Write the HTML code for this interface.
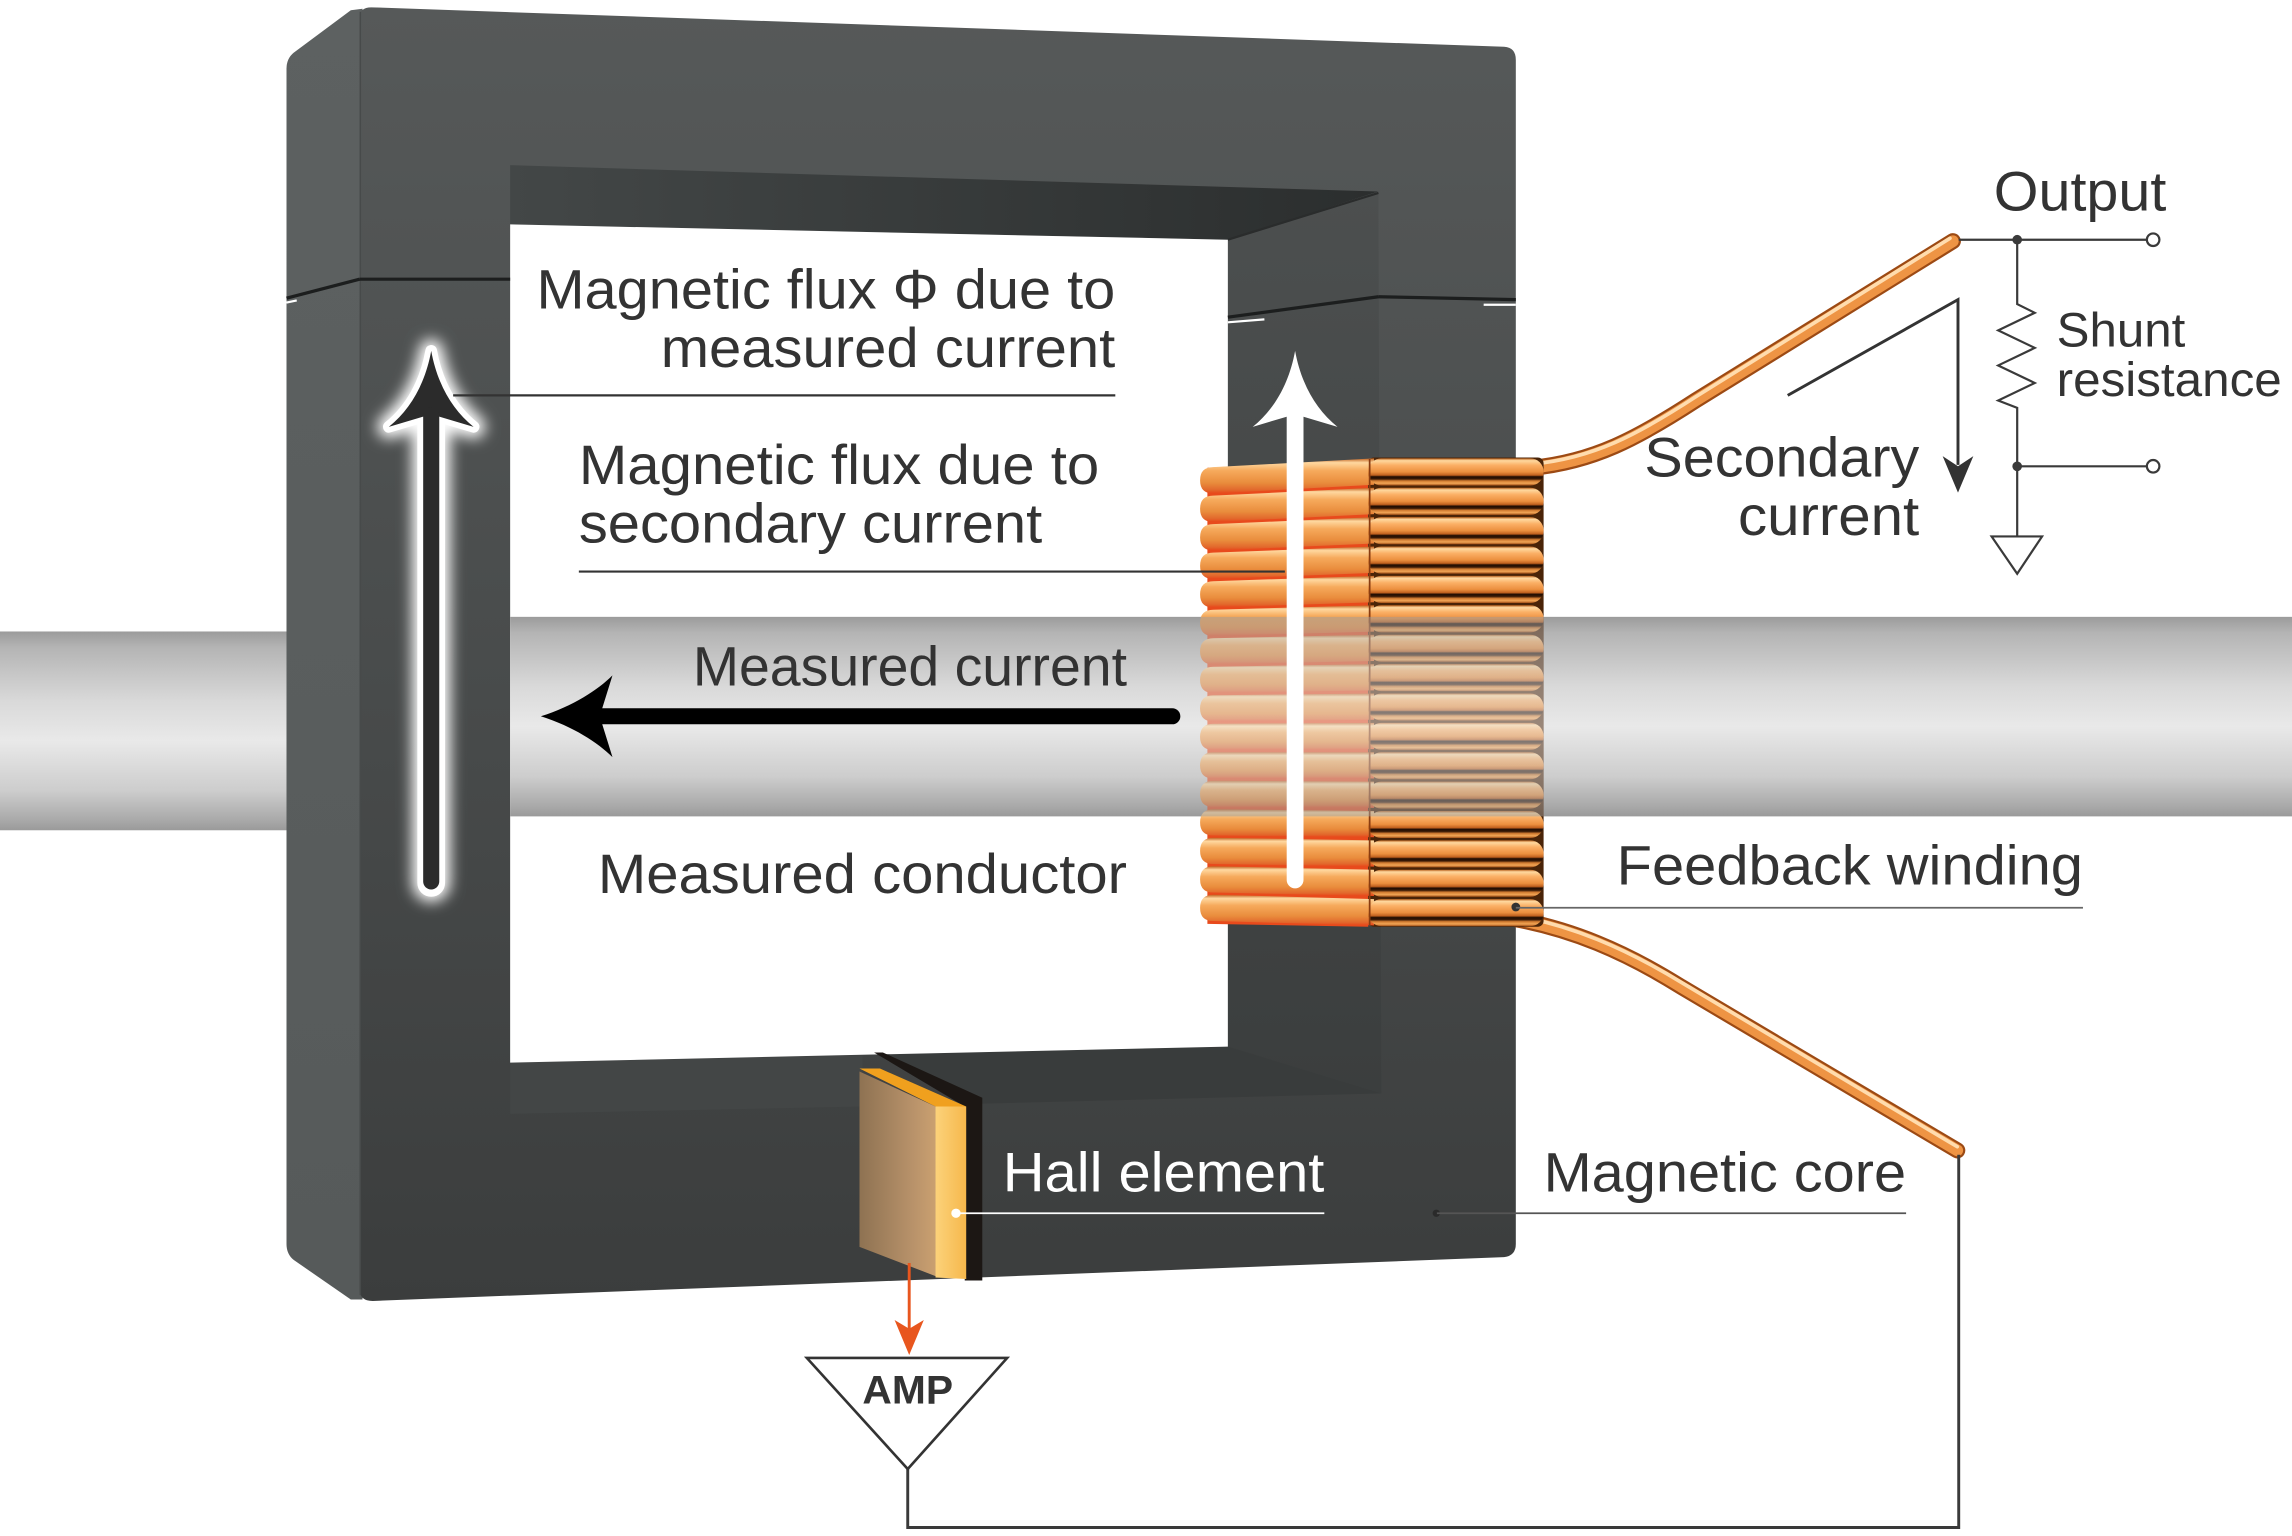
<!DOCTYPE html>
<html><head><meta charset="utf-8"><style>
html,body{margin:0;padding:0;background:#fff;}
svg{display:block;}
text{font-family:"Liberation Sans",Arial,sans-serif;fill:#333;}
</style></head><body>
<svg width="2292" height="1536" viewBox="0 0 1568 1050.8" xmlns="http://www.w3.org/2000/svg">
<defs>
<linearGradient id="bar" x1="0" y1="0" x2="0" y2="1">
<stop offset="0" stop-color="#9b9b9b"/><stop offset="0.08" stop-color="#b4b4b4"/><stop offset="0.35" stop-color="#d9d9d9"/><stop offset="0.55" stop-color="#e9e9e9"/><stop offset="0.8" stop-color="#cdcdcd"/><stop offset="0.95" stop-color="#a9a9a9"/><stop offset="1" stop-color="#9a9a9a"/>
</linearGradient>
<linearGradient id="front" x1="0" y1="0" x2="0" y2="1">
<stop offset="0" stop-color="#565959"/><stop offset="0.5" stop-color="#494c4c"/><stop offset="1" stop-color="#3b3d3d"/>
</linearGradient>
<linearGradient id="side" x1="0" y1="0" x2="0" y2="1">
<stop offset="0" stop-color="#5d6161"/><stop offset="1" stop-color="#565a5a"/>
</linearGradient>
<linearGradient id="itop" x1="0" y1="0" x2="1" y2="0">
<stop offset="0" stop-color="#434747"/><stop offset="1" stop-color="#2b2e2e"/>
</linearGradient>
<linearGradient id="iright" x1="0" y1="0" x2="0" y2="1">
<stop offset="0" stop-color="#4c4f4f"/><stop offset="1" stop-color="#3b3e3e"/>
</linearGradient>
<linearGradient id="rodF" x1="0" y1="0" x2="0" y2="1">
<stop offset="0" stop-color="#b8601c"/><stop offset="0.08" stop-color="#ffd9a0"/><stop offset="0.25" stop-color="#fbb066"/><stop offset="0.5" stop-color="#eb8f3e"/><stop offset="0.62" stop-color="#c0601e"/><stop offset="0.68" stop-color="#1e0c02"/><stop offset="0.76" stop-color="#3a1a06"/><stop offset="0.83" stop-color="#d07a30"/><stop offset="0.92" stop-color="#f2a656"/><stop offset="1" stop-color="#a04e16"/>
</linearGradient>
<linearGradient id="rodS" x1="0" y1="0" x2="0" y2="1">
<stop offset="0" stop-color="#c0601e"/><stop offset="0.12" stop-color="#ffd8a0"/><stop offset="0.35" stop-color="#f6aa5c"/><stop offset="0.7" stop-color="#e98c3c"/><stop offset="0.9" stop-color="#e2682c"/><stop offset="1" stop-color="#e8461a"/>
</linearGradient>
<linearGradient id="wire" x1="0" y1="0" x2="0" y2="1">
<stop offset="0" stop-color="#ffd9a6"/><stop offset="1" stop-color="#e8883a"/>
</linearGradient>
<linearGradient id="hallF" x1="0" y1="0" x2="1" y2="0">
<stop offset="0" stop-color="#8e7252"/><stop offset="0.7" stop-color="#b8926a"/><stop offset="1" stop-color="#caa070"/>
</linearGradient>
<linearGradient id="hallS" x1="0" y1="0" x2="1" y2="0">
<stop offset="0" stop-color="#fcd27a"/><stop offset="1" stop-color="#f6b84c"/>
</linearGradient>
<filter id="glow" x="-100%" y="-30%" width="300%" height="160%"><feGaussianBlur stdDeviation="5"/></filter>
</defs>

<rect x="0" y="0" width="1568" height="1051" fill="#fff"/>

<!-- conductor bar outside core -->
<rect x="0" y="432" width="205" height="136" fill="url(#bar)"/>
<rect x="1030" y="422" width="538" height="136.5" fill="url(#bar)"/>

<!-- core side face and front face -->
<path d="M196,47 Q196,40 201,36 L240,7 L248,6 L248,889 L240,889 L201,862 Q196,858 196,851 Z" fill="url(#side)"/>
<path d="M246,12 Q246,5 254,5 L1029,32 Q1037,32.5 1037,41 L1037,851 Q1037,859 1029,860 L255,890 Q246,890 246,882 Z" fill="url(#front)"/>
<line x1="246.5" y1="8" x2="246.5" y2="886" stroke="#474a4a" stroke-width="1"/>

<!-- inner faces -->
<polygon points="349,113 943,131 840,164 349,153.5" fill="url(#itop)"/>
<polygon points="840,164 943,131 945,748 840,716" fill="url(#iright)"/>
<polygon points="349,727 590,722 590,757 349,762" fill="#434646"/>
<polygon points="596,720 840,716 945,748 671,755" fill="#393c3c"/>
<line x1="840" y1="164" x2="943" y2="132" stroke="#2a2c2c" stroke-width="1.5"/>

<!-- white interior -->
<polygon points="349,153.5 840,164 840,716 349,727" fill="#fff"/>

<!-- conductor bar middle -->
<rect x="349" y="422" width="491" height="136.5" fill="url(#bar)"/>

<!-- gaps in core -->
<line x1="246" y1="191" x2="349" y2="191" stroke="#1c1e1e" stroke-width="2.2"/>
<line x1="196" y1="204" x2="246" y2="191" stroke="#1c1e1e" stroke-width="2.2"/>
<line x1="196" y1="207" x2="203" y2="205.5" stroke="#fff" stroke-width="1.5"/>
<line x1="840" y1="217" x2="943" y2="203" stroke="#1c1e1e" stroke-width="2.2"/>
<line x1="943" y1="203" x2="1037" y2="205" stroke="#1c1e1e" stroke-width="2.2"/>
<line x1="840" y1="220.5" x2="865" y2="218.5" stroke="#fff" stroke-width="1.5"/>
<line x1="1015" y1="208.5" x2="1037" y2="208.5" stroke="#fff" stroke-width="1.5"/>

<!-- hall element -->
<polygon points="598,720 604,720 672,751 672,876 660,876 660,757" fill="#1c1714"/>
<polygon points="588,731 602,731 661,757 640,757" fill="#f0a01e"/>
<polygon points="588,733 640,757 640,873 588,853" fill="url(#hallF)"/>
<polygon points="640,757 661,757 661,875 640,874" fill="url(#hallS)"/>

<!-- left black arrow with glow -->
<g filter="url(#glow)" fill="#fff" stroke="#fff">
<path d="M295,240 C291,262 281,280 266,292 L289.5,285 L300.5,285 L324,292 C309,280 299,262 295,240 Z" stroke-width="16" stroke-linejoin="round"/>
<line x1="295" y1="284" x2="295" y2="604" stroke-width="26" stroke-linecap="round"/>
</g>
<g fill="#fff" stroke="#fff">
<path d="M295,240 C291,262 281,280 266,292 L289.5,285 L300.5,285 L324,292 C309,280 299,262 295,240 Z" stroke-width="8" stroke-linejoin="round"/>
<line x1="295" y1="284" x2="295" y2="604" stroke-width="19" stroke-linecap="round"/>
</g>
<path d="M295,240 C291,262 281,280 266,292 L289.5,285 L300.5,285 L324,292 C309,280 299,262 295,240 Z" fill="#2b2b2b"/>
<line x1="295" y1="284" x2="295" y2="603" stroke="#2b2b2b" stroke-width="11" stroke-linecap="round"/>

<!-- measured current arrow -->
<path d="M370,490 C392,483 409,472 419,462 L412,484.5 L412,495.5 L419,518 C409,508 392,497 370,490 Z" fill="#000"/>
<line x1="410" y1="490" x2="802" y2="490" stroke="#000" stroke-width="11" stroke-linecap="round"/>

<!-- wires -->
<g fill="none" stroke-linecap="round" stroke-linejoin="round">
<path d="M1048,320 C1090,316 1120,300 1160,274 L1336,165" stroke="#9c4a14" stroke-width="11"/>
<path d="M1048,320 C1090,316 1120,300 1160,274 L1336,165" stroke="#ee9444" stroke-width="8"/>
<path d="M1048,317.5 C1090,313.5 1120,297.5 1160,271.5 L1334,163" stroke="#ffdcae" stroke-width="2.5"/>
<path d="M1038,629 C1075,636 1110,650 1150,675 L1339,787" stroke="#9c4a14" stroke-width="11"/>
<path d="M1038,629 C1075,636 1110,650 1150,675 L1339,787" stroke="#ee9444" stroke-width="8"/>
<path d="M1038,626.5 C1075,633.5 1110,647.5 1151,672.5 L1339,784.5" stroke="#ffdcae" stroke-width="2.5"/>
</g>

<!-- coil -->
<path d="M936,314 L826,320 L826,632 L936,634 Z" fill="#e84a1c"/>
<rect x="936" y="313" width="120" height="321" fill="#4a2408" rx="4"/>
<g>
<path d="M940,313.6 L830,319.6 Q821,319.6 821,328.6 Q821,337.6 830,337.6 L940,331.6 Z" fill="url(#rodS)"/>
<path d="M940,333.7 L830,339.1 Q821,339.1 821,348.1 Q821,357.1 830,357.1 L940,351.7 Z" fill="url(#rodS)"/>
<path d="M940,353.8 L830,358.6 Q821,358.6 821,367.6 Q821,376.6 830,376.6 L940,371.8 Z" fill="url(#rodS)"/>
<path d="M940,373.9 L830,378.1 Q821,378.1 821,387.1 Q821,396.1 830,396.1 L940,391.9 Z" fill="url(#rodS)"/>
<path d="M940,394.0 L830,397.6 Q821,397.6 821,406.6 Q821,415.6 830,415.6 L940,412.0 Z" fill="url(#rodS)"/>
<path d="M940,414.1 L830,417.1 Q821,417.1 821,426.1 Q821,435.1 830,435.1 L940,432.1 Z" fill="url(#rodS)"/>
<path d="M940,434.2 L830,436.6 Q821,436.6 821,445.6 Q821,454.6 830,454.6 L940,452.2 Z" fill="url(#rodS)"/>
<path d="M940,454.3 L830,456.1 Q821,456.1 821,465.1 Q821,474.1 830,474.1 L940,472.3 Z" fill="url(#rodS)"/>
<path d="M940,474.4 L830,475.6 Q821,475.6 821,484.6 Q821,493.6 830,493.6 L940,492.4 Z" fill="url(#rodS)"/>
<path d="M940,494.5 L830,495.1 Q821,495.1 821,504.1 Q821,513.1 830,513.1 L940,512.5 Z" fill="url(#rodS)"/>
<path d="M940,514.6 L830,514.6 Q821,514.6 821,523.6 Q821,532.6 830,532.6 L940,532.6 Z" fill="url(#rodS)"/>
<path d="M940,534.7 L830,534.1 Q821,534.1 821,543.1 Q821,552.1 830,552.1 L940,552.7 Z" fill="url(#rodS)"/>
<path d="M940,554.8 L830,553.6 Q821,553.6 821,562.6 Q821,571.6 830,571.6 L940,572.8 Z" fill="url(#rodS)"/>
<path d="M940,574.9 L830,573.1 Q821,573.1 821,582.1 Q821,591.1 830,591.1 L940,592.9 Z" fill="url(#rodS)"/>
<path d="M940,595.0 L830,592.6 Q821,592.6 821,601.6 Q821,610.6 830,610.6 L940,613.0 Z" fill="url(#rodS)"/>
<path d="M940,615.1 L830,612.1 Q821,612.1 821,621.1 Q821,630.1 830,630.1 L940,633.1 Z" fill="url(#rodS)"/>
</g>
<g fill="url(#rodF)">
<rect x="936" y="313.6" width="120" height="18.5" rx="9"/>
<rect x="936" y="333.7" width="120" height="18.5" rx="9"/>
<rect x="936" y="353.8" width="120" height="18.5" rx="9"/>
<rect x="936" y="373.9" width="120" height="18.5" rx="9"/>
<rect x="936" y="394.0" width="120" height="18.5" rx="9"/>
<rect x="936" y="414.1" width="120" height="18.5" rx="9"/>
<rect x="936" y="434.2" width="120" height="18.5" rx="9"/>
<rect x="936" y="454.3" width="120" height="18.5" rx="9"/>
<rect x="936" y="474.4" width="120" height="18.5" rx="9"/>
<rect x="936" y="494.5" width="120" height="18.5" rx="9"/>
<rect x="936" y="514.6" width="120" height="18.5" rx="9"/>
<rect x="936" y="534.7" width="120" height="18.5" rx="9"/>
<rect x="936" y="554.8" width="120" height="18.5" rx="9"/>
<rect x="936" y="574.9" width="120" height="18.5" rx="9"/>
<rect x="936" y="595.0" width="120" height="18.5" rx="9"/>
<rect x="936" y="615.1" width="120" height="18.5" rx="9"/>
</g>
<line x1="937" y1="314" x2="937" y2="633" stroke="#8a3c10" stroke-width="1.2"/>
<!-- conductor seen through coil -->
<rect x="821" y="422" width="235" height="136.5" fill="url(#bar)" opacity="0.5"/>

<!-- white flux arrow on coil -->
<path d="M886,240 C882,262 872,280 857,292 L880.5,285 L891.5,285 L915,292 C900,280 890,262 886,240 Z" fill="#fff"/>
<line x1="886" y1="284" x2="886" y2="602" stroke="#fff" stroke-width="11.5" stroke-linecap="round"/>

<!-- leader lines -->
<line x1="310" y1="270.5" x2="763" y2="270.5" stroke="#333" stroke-width="1.5"/>
<line x1="396" y1="391" x2="879" y2="391" stroke="#333" stroke-width="1.5"/>
<circle cx="1037" cy="620.5" r="3" fill="#333"/>
<line x1="1037" y1="621" x2="1425" y2="621" stroke="#666" stroke-width="1.2"/>
<circle cx="982.6" cy="830" r="2.5" fill="#2a2a2a"/>
<line x1="983" y1="830" x2="1304" y2="830" stroke="#555" stroke-width="1.2"/>
<circle cx="654" cy="830" r="3.2" fill="#fff"/>
<line x1="654" y1="830" x2="906" y2="830" stroke="#fff" stroke-width="1.2"/>

<!-- output circuit -->
<g stroke="#3a3a3a" stroke-width="1.5" fill="none">
<line x1="1340" y1="164" x2="1469" y2="164"/>
<polyline points="1380,164 1380,208 1392,214 1367,226 1392,238 1367,250 1392,262 1367,274 1380,279 1380,319"/>
<line x1="1380" y1="319" x2="1469" y2="319"/>
<line x1="1380" y1="319" x2="1380" y2="367"/>
<polygon points="1362.5,367 1397,367 1380,392.5"/>
<circle cx="1473" cy="164" r="4.3" fill="#fff"/>
<circle cx="1473" cy="319" r="4.3" fill="#fff"/>
</g>
<circle cx="1380" cy="164" r="3.3" fill="#3a3a3a"/>
<circle cx="1380" cy="319" r="3.3" fill="#3a3a3a"/>

<!-- secondary current arrow -->
<polyline points="1223,270.5 1339.5,205 1339.5,318" stroke="#333" stroke-width="2" fill="none"/>
<path d="M1339.5,337 L1329,312 L1339.5,319 L1350,312 Z" fill="#333"/>

<!-- feedback loop / amp -->
<polyline points="1340,790 1340,1045 621,1045 621,1005" stroke="#3a3a3a" stroke-width="2" fill="none"/>
<polygon points="552,929 689,929 621,1005" stroke="#333" stroke-width="1.8" fill="#fff"/>
<line x1="622" y1="864" x2="622" y2="911" stroke="#e8561e" stroke-width="2"/>
<path d="M622,927 L612,903 L622,909 L632,903 Z" fill="#e8561e"/>

<!-- labels -->
<g font-size="38">
<text x="367" y="211" textLength="396" lengthAdjust="spacingAndGlyphs">Magnetic flux Φ due to</text>
<text x="452" y="251" textLength="311" lengthAdjust="spacingAndGlyphs">measured current</text>
<text x="396" y="331" textLength="356" lengthAdjust="spacingAndGlyphs">Magnetic flux due to</text>
<text x="396" y="371" textLength="317" lengthAdjust="spacingAndGlyphs">secondary current</text>
<text x="474" y="469" textLength="297" lengthAdjust="spacingAndGlyphs">Measured current</text>
<text x="409" y="611" textLength="362" lengthAdjust="spacingAndGlyphs">Measured conductor</text>
<text x="1364" y="144" textLength="118" lengthAdjust="spacingAndGlyphs">Output</text>
<text x="1125" y="326" textLength="188" lengthAdjust="spacingAndGlyphs">Secondary</text>
<text x="1189" y="366" textLength="124" lengthAdjust="spacingAndGlyphs">current</text>
<text x="1106" y="605" textLength="319" lengthAdjust="spacingAndGlyphs">Feedback winding</text>
<text x="1056" y="815" textLength="248" lengthAdjust="spacingAndGlyphs">Magnetic core</text>
<text x="686" y="815" textLength="220" lengthAdjust="spacingAndGlyphs" style="fill:#fff">Hall element</text>
</g>
<g font-size="33">
<text x="1407" y="237" textLength="88" lengthAdjust="spacingAndGlyphs">Shunt</text>
<text x="1407" y="271" textLength="154" lengthAdjust="spacingAndGlyphs">resistance</text>
</g>
<text x="590" y="960" font-size="27" font-weight="bold" textLength="62" lengthAdjust="spacingAndGlyphs">AMP</text>
</svg>
</body></html>
